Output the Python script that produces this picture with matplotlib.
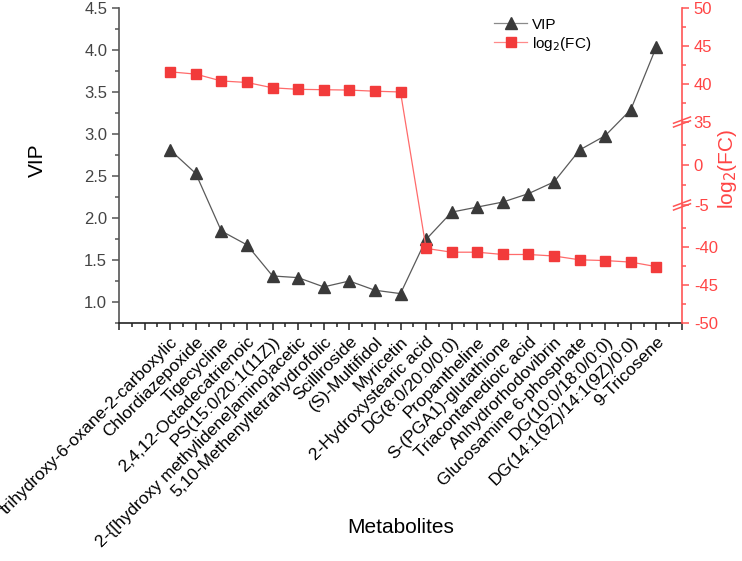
import numpy as np
import matplotlib
matplotlib.use("Agg")
import matplotlib.pyplot as plt
from matplotlib.ticker import MultipleLocator, FixedLocator
from matplotlib.lines import Line2D

plt.rcParams['font.family'] = ['Liberation Sans', 'DejaVu Sans']

metabolites = [
    "trihydroxy-6-oxane-2-carboxylic", "Chlordiazepoxide", "Tigecycline",
    "2,4,12-Octadecatrienoic", "PS(15:0/20:1(11Z))",
    "2-{[hydroxy methylidene]amino}acetic", "5,10-Methenyltetrahydrofolic",
    "Scilliroside", "(S)-Multifidol", "Myricetin", "2-Hydroxystearic acid",
    "DG(8:0/20:0/0:0)", "Propantheline", "S-(PGA1)-glutathione",
    "Triacontanedioic acid", "Anhydrorhodovibrin", "Glucosamine 6-phosphate",
    "DG(10:0/18:0/0:0)", "DG(14:1(9Z)/14:1(9Z)/0:0)", "9-Tricosene",
]
vip = [2.81, 2.53, 1.845, 1.68, 1.31, 1.29, 1.18, 1.25, 1.14, 1.10,
       1.745, 2.07, 2.13, 2.19, 2.29, 2.43, 2.81, 2.98, 3.29, 4.04]
log2fc = [41.6, 41.3, 40.4, 40.2, 39.5, 39.3, 39.25, 39.2, 39.05, 38.95,
          -40.2, -40.7, -40.7, -41.0, -41.0, -41.2, -41.7, -41.8, -42.0, -42.6]
right_ticks = [-50, -45, -40, -5, 0, 35, 40, 45, 50]

# broken right axis: piecewise linear mapping
seg_x = [-50, -34.5, -5, 5.4, 35, 50]
seg_u = [0, 118, 118, 201, 201, 315]
def fwd(v):
    return np.interp(v, seg_x, seg_u)
def inv(u):
    return np.interp(u, [0, 118, 118.0001, 201, 201.0001, 315], seg_x)

fig = plt.figure(figsize=(7.42, 5.61), dpi=100)
ax = fig.add_axes([119/742, 1 - 323/561, (682-119)/742, (323-8)/561])
ax2 = ax.twinx()

x = np.arange(len(metabolites))
GRAY = '#3a3a3a'
RED = '#f23b3b'

l1, = ax.plot(x, vip, color='#5a5a5a', lw=0.9, marker='^', ms=9,
              mfc=GRAY, mec=GRAY, zorder=3)
ax2.set_yscale('function', functions=(fwd, inv))
ax2.set_ylim(-50, 50)
l2, = ax2.plot(x, log2fc, color='#ff6b6b', lw=0.9, marker='s', ms=7.5,
               mfc=RED, mec=RED, zorder=3)

ax.set_xlim(-2, 20)
ax.set_ylim(0.75, 4.5)
ax.yaxis.set_minor_locator(MultipleLocator(0.25))
ax.set_yticks([1.0, 1.5, 2.0, 2.5, 3.0, 3.5, 4.0, 4.5])
ax.set_yticklabels(["1.0", "1.5", "2.0", "2.5", "3.0", "3.5", "4.0", "4.5"])

ax.set_xticks(np.arange(-2, 21))
ax.set_xticklabels([""] * 2 + metabolites + [""], rotation=45, ha='right',
                   rotation_mode='anchor', fontsize=12.5)
ax.xaxis.set_minor_locator(MultipleLocator(0.5))

ax2.yaxis.set_major_locator(FixedLocator(right_ticks))
minor_r = [-47.5, -42.5, -37.5, -2.5, 2.5, 37.5, 42.5, 47.5]
ax2.yaxis.set_minor_locator(FixedLocator(minor_r))
ax2.set_yticklabels([str(t) for t in right_ticks])

for a in (ax, ax2):
    a.spines['top'].set_visible(False)
ax.spines['left'].set_color('#555555')
ax.spines['bottom'].set_color('#222222')
ax.spines['right'].set_visible(False)
ax2.spines['left'].set_visible(False)
ax2.spines['bottom'].set_visible(False)
ax2.spines['right'].set_color('#ff5555')
for s in ('left', 'bottom', 'right'):
    ax.spines[s].set_linewidth(1.2)
    ax2.spines[s].set_linewidth(1.2)

ax.tick_params(axis='y', which='major', length=5, width=1.1, color='#555555',
               labelsize=12, labelcolor='#444444')
ax.tick_params(axis='y', which='minor', length=3, width=1.1, color='#555555')
ax.tick_params(axis='x', which='major', length=5, width=1.1, color='#222222',
               labelsize=12.5, pad=3)
ax.tick_params(axis='x', which='minor', length=3, width=1.1, color='#222222')
ax2.tick_params(axis='y', which='major', length=5, width=1.1, color='#ff5555',
                labelsize=12, labelcolor='#ff4444')
ax2.tick_params(axis='y', which='minor', length=3, width=1.1, color='#ff5555')

ax.set_ylabel("VIP", fontsize=15)
ax.yaxis.set_label_coords((47 - 119) / 563, (323 - 160) / 315)
ax2.set_ylabel("log$_2$(FC)", fontsize=15, color='#ff4444')
ax2.yaxis.set_label_coords((716 - 119) / 563, (323 - 169) / 315)
ax.set_xlabel("Metabolites", fontsize=15)
ax.xaxis.set_label_coords(0.5, -0.62)

# break marks on the right axis
for val in (35, -5):
    u = fwd(val) / 315.0
    for dy in (-0.006, 0.006):
        ax2.plot([0.985, 1.015], [u + dy - 0.01, u + dy + 0.01],
                 transform=ax2.transAxes, color='#ff5555', lw=1.1, clip_on=False)

handles = [Line2D([], [], color='#8a8a8a', lw=0.9, marker='^', ms=8, mfc=GRAY, mec=GRAY),
           Line2D([], [], color='#ff8a8a', lw=0.9, marker='s', ms=7, mfc=RED, mec=RED)]
fig.legend(handles, ["VIP", "log$_2$(FC)"], loc='upper left',
           bbox_to_anchor=(480/742, 1 - 4/561), frameon=False, fontsize=11,
           handlelength=2.2, handletextpad=0.3, labelspacing=0.2)

fig.savefig("out.png", dpi=100)
